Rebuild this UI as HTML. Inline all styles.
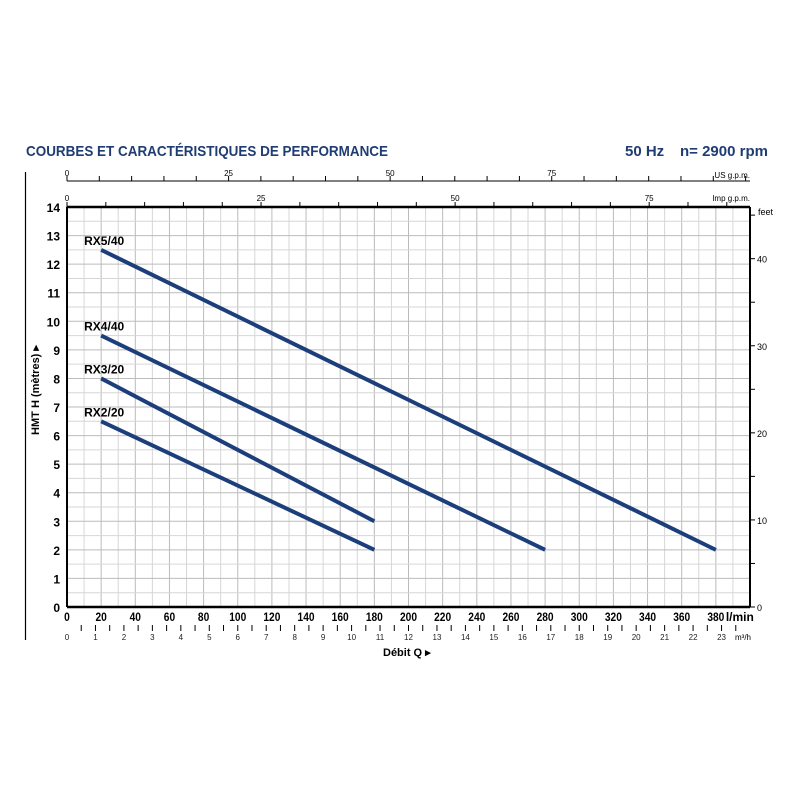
<!DOCTYPE html>
<html><head><meta charset="utf-8"><style>
html,body{margin:0;padding:0;background:#fff;width:800px;height:800px;overflow:hidden}
svg{display:block}
text{font-family:"Liberation Sans",sans-serif}
</style></head><body>
<svg id="s" width="800" height="800" xmlns="http://www.w3.org/2000/svg">
<text x="26" y="156" font-size="15" font-weight="bold" fill="#1f3d73" textLength="362" lengthAdjust="spacingAndGlyphs">COURBES ET CARACTÉRISTIQUES DE PERFORMANCE</text>
<text x="625" y="156" font-size="15" font-weight="bold" fill="#1f3d73">50 Hz</text>
<text x="680" y="156" font-size="15" font-weight="bold" fill="#1f3d73">n= 2900 rpm</text>
<line x1="25.5" y1="172" x2="25.5" y2="640" stroke="#000" stroke-width="1.2"/>
<g id="g"></g>
<text transform="translate(39,390) rotate(-90)" font-size="11" font-weight="bold" text-anchor="middle">HMT H (mètres) ▸</text>
<text x="383" y="656" font-size="11" font-weight="bold">Débit Q ▸</text>
</svg>
<script>
const g=document.getElementById('g');let h='';
const X0=67,PX=1.7075,Y0=607,PY=28.57;
const x=q=>X0+q*PX, y=m=>Y0-m*PY;
for(let q=0;q<=400;q+=10){const c=q%20==0?'#bbb':'#d6d6d6';h+=`<line x1="${x(q)}" y1="${y(14)}" x2="${x(q)}" y2="${Y0}" stroke="${c}" stroke-width="1"/>`;}
for(let m=0;m<=14;m+=0.5){const c=m%1==0?'#bbb':'#d6d6d6';h+=`<line x1="${X0}" y1="${y(m)}" x2="${x(400)}" y2="${y(m)}" stroke="${c}" stroke-width="1"/>`;}
h+=`<line x1="${X0}" y1="${y(14)}" x2="${x(400)}" y2="${y(14)}" stroke="#000" stroke-width="2.5"/>`;
h+=`<line x1="${X0}" y1="${Y0}" x2="${x(400)}" y2="${Y0}" stroke="#000" stroke-width="2.5"/>`;
h+=`<line x1="${X0}" y1="${y(14)}" x2="${X0}" y2="${Y0}" stroke="#000" stroke-width="2"/>`;
h+=`<line x1="${x(400)}" y1="${y(14)}" x2="${x(400)}" y2="${Y0}" stroke="#000" stroke-width="2"/>`;
for(let m=0;m<=14;m++)h+=`<text x="${X0-7}" y="${y(m)+5}" font-size="12" font-weight="bold" text-anchor="end">${m}</text>`;
for(let q=0;q<=380;q+=20)h+=`<text x="${x(q)}" y="${Y0+14}" font-size="12" font-weight="bold" text-anchor="middle" transform="translate(${x(q)},0) scale(0.85,1) translate(${-x(q)},0)">${q}</text>`;
h+=`<text x="${x(380)+10}" y="${Y0+14}" font-size="12" font-weight="bold">l/min</text>`;
for(let v=0;v<=23;v++){const xx=x(v*1000/60);h+=`<text x="${xx}" y="${Y0+33}" font-size="8" text-anchor="middle" fill="#222">${v}</text>`;}
for(let v=0.5;v<=23.5;v+=0.5){const xx=x(v*1000/60);h+=`<line x1="${xx}" y1="${Y0+18}" x2="${xx}" y2="${Y0+24}" stroke="#000" stroke-width="1"/>`;}
h+=`<text x="${x(400)-15}" y="${Y0+33}" font-size="8">m³/h</text>`;
const uy=181;h+=`<line x1="${X0}" y1="${uy}" x2="${x(400)}" y2="${uy}" stroke="#000" stroke-width="1"/>`;
for(let v=0;v<=105;v+=5){const xx=x(v*3.785);if(xx>x(400))break;h+=`<line x1="${xx}" y1="${uy-5}" x2="${xx}" y2="${uy}" stroke="#000"/>`;}
for(const v of [0,25,50,75])h+=`<text x="${x(v*3.785)}" y="${uy-5}" font-size="8" text-anchor="middle">${v}</text>`;
h+=`<text x="${x(400)}" y="${uy-3}" font-size="8" text-anchor="end">US g.p.m.</text>`;
const iy=y(14);
for(let v=0;v<=85;v+=5){const xx=x(v*4.546);if(xx>x(400))break;h+=`<line x1="${xx}" y1="${iy-5}" x2="${xx}" y2="${iy}" stroke="#000"/>`;}
for(const v of [0,25,50,75])h+=`<text x="${x(v*4.546)}" y="${iy-6}" font-size="8" text-anchor="middle">${v}</text>`;
h+=`<text x="${x(400)}" y="${iy-6}" font-size="8" text-anchor="end">Imp g.p.m.</text>`;
for(let f=0;f<=45;f+=5){const yy=y(f*0.3048);h+=`<line x1="${x(400)}" y1="${yy}" x2="${x(400)+5}" y2="${yy}" stroke="#000"/>`;}
for(const f of [0,10,20,30,40])h+=`<text x="${x(400)+7}" y="${y(f*0.3048)+4}" font-size="9">${f}</text>`;
h+=`<text x="${x(400)+8}" y="${iy+8}" font-size="9">feet</text>`;
const C=[['RX5/40',12.5,380,2],['RX4/40',9.5,280,2],['RX3/20',8,180,3],['RX2/20',6.5,180,2]];
for(const [n,h0,q1,h1] of C){h+=`<line x1="${x(20)}" y1="${y(h0)}" x2="${x(q1)}" y2="${y(h1)}" stroke="#1c3f7c" stroke-width="4"/>`;
h+=`<text x="${x(20)-17}" y="${y(h0)-5}" font-size="12" font-weight="bold">${n}</text>`;}
g.innerHTML=h;
</script>
</body></html>
